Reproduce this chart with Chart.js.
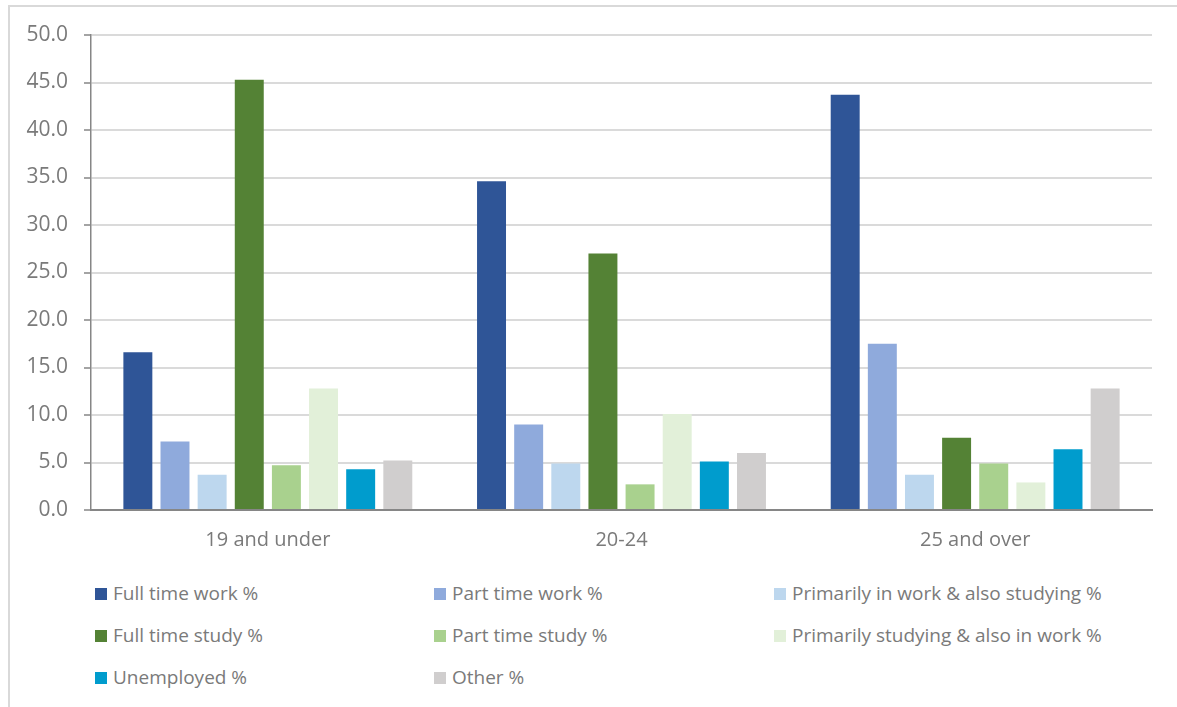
<!DOCTYPE html>
<html>
<head>
<meta charset="utf-8">
<script src="https://cdn.jsdelivr.net/npm/chart.js@4.4.0/dist/chart.umd.min.js"></script>
<style>
  body { margin: 0; background: #fff; font-family: "Open Sans", sans-serif; }
  #frame { position: absolute; left: 8px; top: 5px; width: 1200px; height: 760px;
           border-left: 2px solid #d9d9d9; border-top: 2px solid #d9d9d9; }
  #wrap { position: absolute; left: 0; top: 0; width: 1177px; height: 560px; }
  #legend { position: absolute; left: 0; top: 0; }
  .item { position: absolute; height: 24px; line-height: 24px; font-size: 19px; color: #7a7a7a; white-space: nowrap; }
  .item span.box { position: absolute; left: 0; top: 6px; width: 12px; height: 12px; }
  .item span.txt { position: absolute; left: 18px; top: -1px; }
</style>
</head>
<body>
<div id="frame"></div>
<div id="wrap"><canvas id="myChart" width="1177" height="560"></canvas></div>
<div id="legend"></div>
<script>
// age groups
var groups = ['19 and under', '20-24', '25 and over'];

// one list per status, values in group order
var fullTimeWork    = [16.6, 34.6, 43.7];
var partTimeWork    = [7.2, 9.0, 17.5];
var workAndStudy    = [3.7, 4.9, 3.7];
var fullTimeStudy   = [45.3, 27.0, 7.6];
var partTimeStudy   = [4.7, 2.7, 4.9];
var studyAndWork    = [12.8, 10.1, 2.9];
var unemployed      = [4.3, 5.1, 6.4];
var other           = [5.2, 6.0, 12.8];

var seriesNames = ['Full time work %', 'Part time work %', 'Primarily in work & also studying %',
                   'Full time study %', 'Part time study %', 'Primarily studying & also in work %',
                   'Unemployed %', 'Other %'];
var seriesValues = [fullTimeWork, partTimeWork, workAndStudy, fullTimeStudy,
                    partTimeStudy, studyAndWork, unemployed, other];
var seriesColors = ['#2f5597', '#8faadc', '#bdd7ee', '#548235',
                    '#a9d18e', '#e2f0d9', '#009ccd', '#d0cece'];

var datasets = [];
for (var k = 0; k < seriesNames.length; k++) {
    datasets.push({
        label: seriesNames[k],
        data: seriesValues[k],
        backgroundColor: seriesColors[k],
        barPercentage: 0.78,
        categoryPercentage: 0.84
    });
}

var ctx = document.getElementById('myChart').getContext('2d');
var chart = new Chart(ctx, {
    type: 'bar',
    data: { labels: groups, datasets: datasets },
    options: {
        responsive: false,
        animation: false,
        layout: { padding: { left: 0, right: 25, top: 35, bottom: 0 } },
        plugins: { legend: { display: false }, tooltip: { enabled: false } },
        scales: {
            x: {
                grid: { display: false, drawTicks: false },
                border: { display: true, color: '#868686', width: 2 },
                ticks: { color: '#7a7a7a', padding: 18, font: { family: 'Open Sans', size: 20 } },
                afterFit: function(s) { s.height = 50; }
            },
            y: {
                min: 0, max: 50,
                ticks: {
                    stepSize: 5, color: '#7a7a7a', padding: 16,
                    font: { family: 'Open Sans', size: 21 },
                    callback: function(v) { return v.toFixed(1); }
                },
                grid: { color: '#dadada', lineWidth: 2, tickLength: 7, tickColor: '#868686', tickWidth: 1.5 },
                border: { display: true, color: '#868686', width: 1.5 },
                afterFit: function(s) { s.width = 91; }
            }
        }
    }
});

// legend in a 3 column grid under the chart
var colX = [95, 434, 774];
var rowY = [582, 624, 666];
var html = '';
chart.data.datasets.forEach(function(d, n) {
    var c = n % 3, r = Math.floor(n / 3);
    html += '<div class="item" style="left:' + colX[c] + 'px;top:' + rowY[r] + 'px">' +
            '<span class="box" style="background:' + d.backgroundColor + '"></span>' +
            '<span class="txt">' + d.label.replace('&', '&amp;') + '</span></div>';
});
document.getElementById('legend').innerHTML = html;
</script>
</body>
</html>
